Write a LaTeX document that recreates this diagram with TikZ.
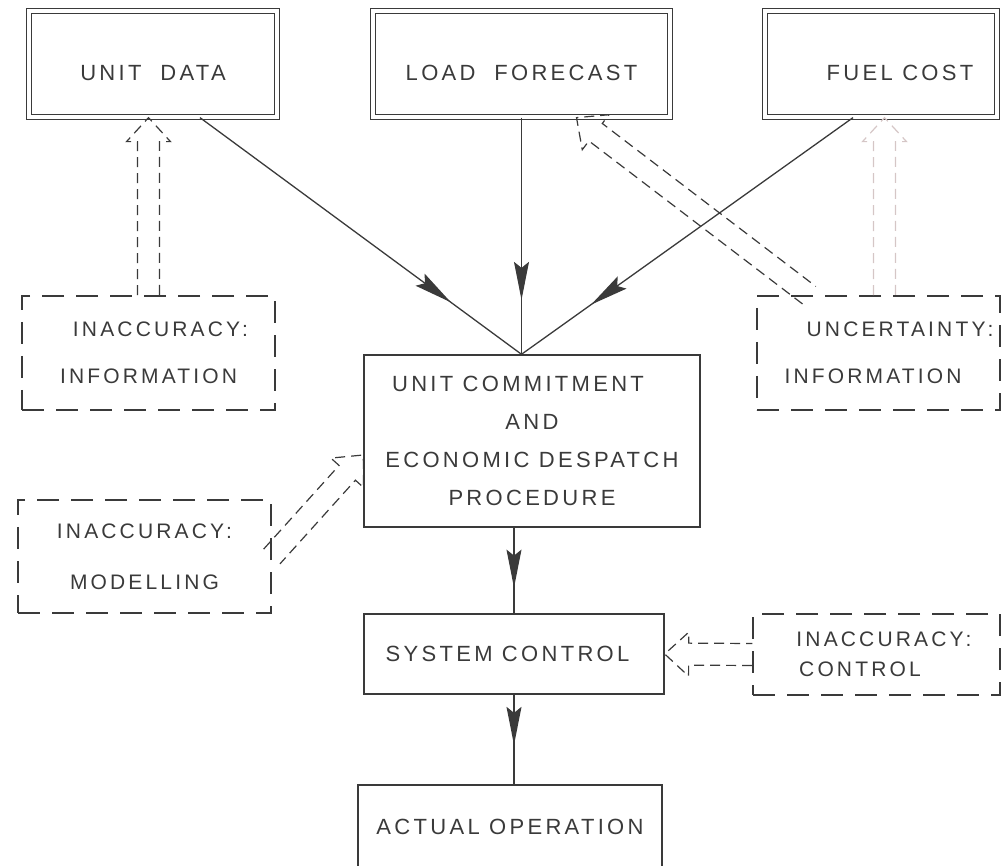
\documentclass[tikz,border=0pt]{standalone}
\usepackage{fontspec}
\newfontfamily\lettering[LetterSpace=15]{Liberation Sans}
\usetikzlibrary{arrows.meta,decorations.markings}
\definecolor{ink}{HTML}{3A3A3A}
\definecolor{faint}{HTML}{D5C6C6}

\begin{document}
\begin{tikzpicture}[x=1pt,y=-1pt,
	every node/.style={text=ink, font=\lettering\fontsize{22}{38}\selectfont, align=center, inner sep=0pt},
	databox/.style={draw=ink, line width=1.3pt, double, double distance=4pt, minimum height=106pt, text height=34pt, text depth=0pt},
	procbox/.style={draw=ink, line width=1.4pt},
	errbox/.style={draw=ink, line width=1.6pt, dash pattern=on 22pt off 12pt, font=\lettering\fontsize{21}{47}\selectfont},
	flow/.style={draw=ink, line width=1.3pt, postaction={decorate}, decoration={markings, mark=at position #1 with {\arrow{Stealth[length=38pt,width=15pt,inset=6pt]}}}},
	hollow/.style={postaction={decorate}, decoration={markings, mark=at position 0 with {\draw[#1, line width=1.2pt, dash pattern=on 10pt off 6pt]
		(0pt,11pt) -- (\pgfdecoratedpathlength-24pt,11pt) -- (\pgfdecoratedpathlength-24pt,22pt) -- (\pgfdecoratedpathlength,0pt)
		-- (\pgfdecoratedpathlength-24pt,-22pt) -- (\pgfdecoratedpathlength-24pt,-11pt) -- (0pt,-11pt);}}},
	hollow/.default=ink]
		\useasboundingbox (0,0) rectangle (1002,866);

		\node[databox, minimum width=248pt] (unit) at (153,64) {UNIT~~DATA};
		\node[databox, minimum width=297pt] (load) at (521.5,64) {LOAD~~FORECAST};
		\node[databox, minimum width=232pt] (fuel) at (881,64) {\hspace*{38pt}FUEL~COST};

		\node[errbox, minimum width=253pt, minimum height=114pt] (infoL) at (148.5,353) {\hspace*{24pt}INACCURACY:\\INFORMATION};
		\node[errbox, minimum width=243pt, minimum height=114pt] (infoR) at (878.5,353) {\hspace*{43pt}UNCERTAINTY:\\INFORMATION\hspace*{11pt}};
		\node[procbox, minimum width=336pt, minimum height=172pt] (uc) at (532,441) {UNIT COMMITMENT\hspace*{28pt}\\AND\hspace*{20pt}\\ECONOMIC DESPATCH\\PROCEDURE};
		\node[errbox, minimum width=253pt, minimum height=113pt, font=\lettering\fontsize{21}{51}\selectfont] (model) at (144.5,556.5) {INACCURACY:\\MODELLING};
		\node[procbox, minimum width=300pt, minimum height=80pt] (sc) at (514,654) {SYSTEM CONTROL\hspace*{13pt}};
		\node[errbox, minimum width=247pt, minimum height=81pt, font=\lettering\fontsize{21}{30}\selectfont] (control) at (876.5,654.5) {\hspace*{15pt}INACCURACY:\\CONTROL\hspace*{33pt}};
		\node[procbox, minimum width=304pt, minimum height=83pt] (ao) at (510,826.5) {ACTUAL OPERATION};

		\coordinate (meet) at (load.south |- uc.north);

		\path[hollow] (infoL.north) -- (infoL.north |- unit.south);
		\path[hollow] ([xshift=53pt]infoR.north west) -- ([xshift=55pt]load.south);
		\path[hollow=faint] ([xshift=6pt]infoR.north) -- ([xshift=6pt]infoR.north |- fuel.south);
		\path[hollow] (model.east) -- ([yshift=-14pt]uc.west);
		\path[hollow] (control.west) -- (sc.east);

		\draw[flow=0.78] ([xshift=47pt]unit.south) -- (meet);
		\draw[flow=0.77] (load.south) -- (meet);
		\draw[flow=0.79] ([xshift=-28pt]fuel.south) -- (meet);
		\draw[flow=0.7] (sc.north |- uc.south) -- (sc.north);
		\draw[flow=0.56] (sc.south) -- (sc.south |- ao.north);
	\end{tikzpicture}
\end{document}
